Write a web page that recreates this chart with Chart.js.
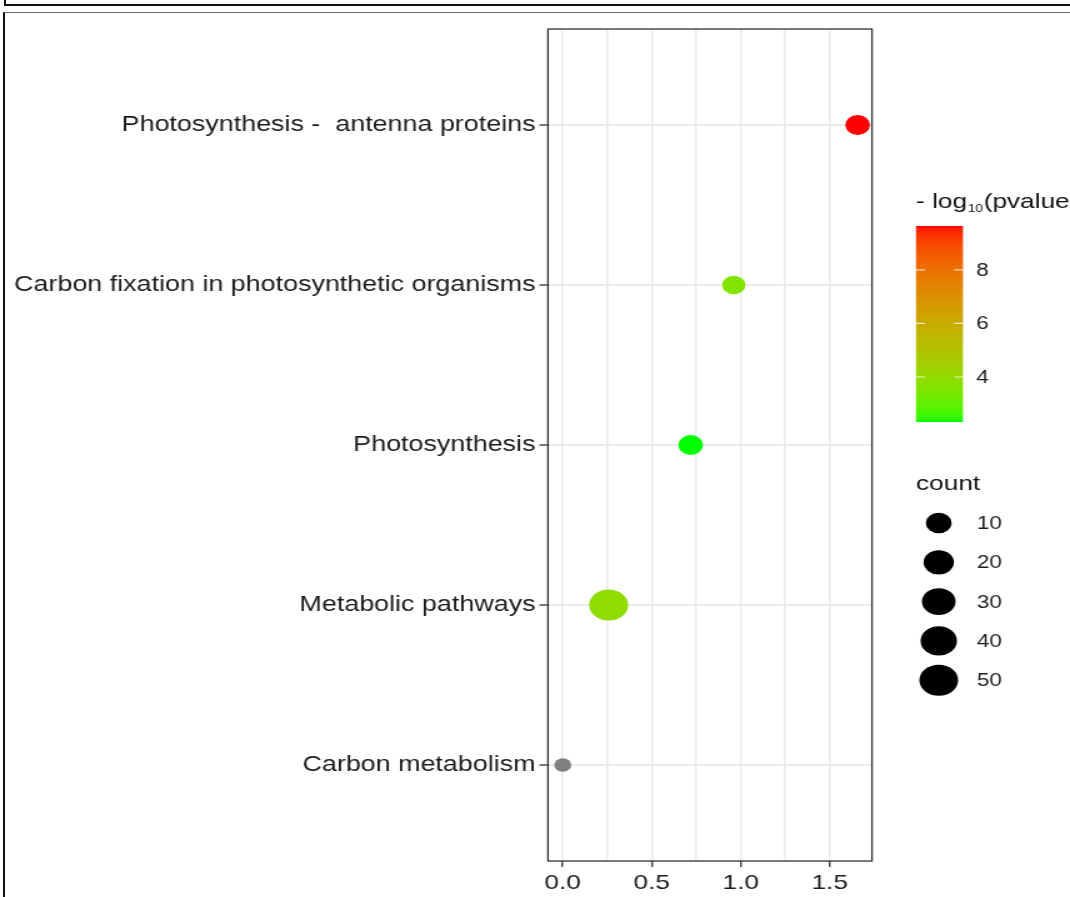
<!DOCTYPE html>
<html>
<head>
<meta charset="utf-8">
<title>KEGG enrichment</title>
<script src="https://cdn.jsdelivr.net/npm/chart.js@4.4.1/dist/chart.umd.min.js"></script>
<style>
  html, body { margin: 0; padding: 0; background: #fff; width: 1070px; height: 897px; overflow: hidden; }
  /* the figure is drawn on an 856px canvas and stretched horizontally to the page width */
  #wrap { position: absolute; left: 0; top: 0; width: 856px; height: 897px; transform: scaleX(1.25); transform-origin: 0 0; }
  .frame-top { position: absolute; left: 4px; top: -20px; width: 1200px; height: 22px; border: 2px solid #111; }
  .frame-main { position: absolute; left: 3px; top: 12px; width: 1200px; height: 1000px; border-top: 1px solid #666; border-left: 2px solid #111; }
</style>
</head>
<body>
<div class="frame-top"></div>
<div class="frame-main"></div>
<div id="wrap"><canvas id="c" width="856" height="897"></canvas></div>
<script>
// KEGG pathways, bottom to top
const pathways = [
  'Carbon metabolism',
  'Metabolic pathways',
  'Photosynthesis',
  'Carbon fixation in photosynthetic organisms',
  'Photosynthesis -  antenna proteins'
];
const richFactor = [0.0, 0.258, 0.719, 0.961, 1.657];
const geneCount  = [2, 51, 8, 6, 8];
const negLog10P  = [null, 3.9, 2.32, 3.6, 9.64];

const xTickValues = [0, 0.25, 0.5, 0.75, 1.0, 1.25, 1.5];
const xTickLabels = ['0.0', '', '0.5', '', '1.0', '', '1.5'];
const colourbarTicks = [4, 6, 8];
const countBreaks = [10, 20, 30, 40, 50];

const FONT = '"Liberation Sans", Arial, Helvetica, sans-serif';
const TEXT = '#1c1c1c';

// ---- colour scale: green -> red interpolated in CIELAB ----
const LOW = [0, 255, 0], HIGH = [255, 0, 0], NA_COLOUR = '#808080';
function toLab(rgb) {
  const lin = rgb.map(c => { c /= 255; return c <= 0.04045 ? c / 12.92 : Math.pow((c + 0.055) / 1.055, 2.4); });
  const X = (0.4124 * lin[0] + 0.3576 * lin[1] + 0.1805 * lin[2]) / 0.95047;
  const Y = (0.2126 * lin[0] + 0.7152 * lin[1] + 0.0722 * lin[2]);
  const Z = (0.0193 * lin[0] + 0.1192 * lin[1] + 0.9505 * lin[2]) / 1.08883;
  const f = t => t > 0.008856 ? Math.cbrt(t) : 7.787 * t + 16 / 116;
  const fx = f(X), fy = f(Y), fz = f(Z);
  return [116 * fy - 16, 500 * (fx - fy), 200 * (fy - fz)];
}
function fromLab(L, a, b) {
  const fy = (L + 16) / 116, fx = fy + a / 500, fz = fy - b / 200;
  const inv = t => t * t * t > 0.008856 ? t * t * t : (t - 16 / 116) / 7.787;
  const X = inv(fx) * 0.95047, Y = inv(fy), Z = inv(fz) * 1.08883;
  const r = 3.2406 * X - 1.5372 * Y - 0.4986 * Z;
  const g = -0.9689 * X + 1.8758 * Y + 0.0415 * Z;
  const bl = 0.0557 * X - 0.2040 * Y + 1.0570 * Z;
  const gam = c => { c = c <= 0.0031308 ? 12.92 * c : 1.055 * Math.pow(c, 1 / 2.4) - 0.055; return Math.round(Math.max(0, Math.min(1, c)) * 255); };
  return 'rgb(' + gam(r) + ',' + gam(g) + ',' + gam(bl) + ')';
}
const labLow = toLab(LOW), labHigh = toLab(HIGH);
const pVals = negLog10P.filter(v => v !== null);
const pMin = Math.min(...pVals), pMax = Math.max(...pVals);
function colourFor(v) {
  if (v === null || v === undefined) return NA_COLOUR;
  const t = Math.max(0, Math.min(1, (v - pMin) / (pMax - pMin)));
  return fromLab(
    labLow[0] + (labHigh[0] - labLow[0]) * t,
    labLow[1] + (labHigh[1] - labLow[1]) * t,
    labLow[2] + (labHigh[2] - labLow[2]) * t);
}

// ---- size scale: area-proportional between two diameters ----
const cMin = Math.min(...geneCount), cMax = Math.max(...geneCount);
const DIA_MIN = 13.6, DIA_MAX = 31.2;
function diameterFor(n) {
  const t = Math.max(0, (n - cMin) / (cMax - cMin));
  return DIA_MIN + (DIA_MAX - DIA_MIN) * Math.sqrt(t);
}

const points = pathways.map((p, i) => ({ x: richFactor[i], y: i + 1 }));

// panel frame and the two legends
const extras = {
  id: 'extras',
  afterDatasetsDraw(chart) {
    const { ctx, chartArea: a } = chart;
    ctx.save();
    ctx.strokeStyle = '#333';
    ctx.lineWidth = 1.3;
    ctx.strokeRect(a.left, a.top, a.right - a.left, a.bottom - a.top);
    ctx.restore();
  },
  afterDraw(chart) {
    const ctx = chart.ctx;
    const x0 = 732.8;
    ctx.save();
    ctx.textAlign = 'left';

    // colour legend title
    ctx.fillStyle = '#111';
    ctx.textBaseline = 'alphabetic';
    ctx.font = '21px ' + FONT;
    let tx = x0;
    ctx.fillText('- log', tx, 208);
    tx += ctx.measureText('- log').width + 0.5;
    ctx.font = '11px ' + FONT;
    ctx.fillText('10', tx, 212);
    tx += ctx.measureText('10').width + 0.5;
    ctx.font = '21px ' + FONT;
    ctx.fillText('(pvalue)', tx, 208);

    // colour bar
    const barTop = 226, barBottom = 422, barW = 37.6;
    for (let y = barTop; y < barBottom; y++) {
      const v = pMax - ((y + 0.5 - barTop) / (barBottom - barTop)) * (pMax - pMin);
      ctx.fillStyle = colourFor(v);
      ctx.fillRect(x0, y, barW, 1);
    }
    ctx.strokeStyle = 'rgba(255,255,255,0.75)';
    ctx.lineWidth = 1.2;
    ctx.font = '18px ' + FONT;
    ctx.fillStyle = TEXT;
    ctx.textBaseline = 'middle';
    colourbarTicks.forEach(v => {
      const y = barBottom - (v - pMin) / (pMax - pMin) * (barBottom - barTop);
      ctx.beginPath();
      ctx.moveTo(x0, y); ctx.lineTo(x0 + barW * 0.19, y);
      ctx.moveTo(x0 + barW * 0.81, y); ctx.lineTo(x0 + barW, y);
      ctx.stroke();
      ctx.fillText(String(v), 781, y + 1);
    });

    // size legend
    ctx.fillStyle = '#111';
    ctx.textBaseline = 'alphabetic';
    ctx.font = '21px ' + FONT;
    ctx.fillText('count', x0, 490);
    ctx.font = '18px ' + FONT;
    ctx.textBaseline = 'middle';
    countBreaks.forEach((n, i) => {
      const y = 523 + i * 39.3;
      ctx.fillStyle = '#000';
      ctx.beginPath();
      ctx.arc(751, y, diameterFor(n) / 2, 0, Math.PI * 2);
      ctx.fill();
      ctx.fillStyle = TEXT;
      ctx.fillText(String(n), 781.6, y + 1);
    });
    ctx.restore();
  }
};

new Chart(document.getElementById('c'), {
  type: 'scatter',
  data: {
    datasets: [{
      data: points,
      pointRadius: c => diameterFor(geneCount[c.dataIndex]) / 2,
      pointHoverRadius: c => diameterFor(geneCount[c.dataIndex]) / 2,
      pointBackgroundColor: c => colourFor(negLog10P[c.dataIndex]),
      pointBorderWidth: 0,
      pointBorderColor: 'rgba(0,0,0,0)'
    }]
  },
  options: {
    responsive: false,
    animation: false,
    devicePixelRatio: 1,
    events: [],
    layout: { padding: { left: 0, top: 29, right: 158.4, bottom: 0 } },
    plugins: { legend: { display: false }, tooltip: { enabled: false } },
    scales: {
      x: {
        type: 'linear',
        min: -0.0828,
        max: 1.7378,
        afterBuildTicks: s => { s.ticks = xTickValues.map(v => ({ value: v })); },
        afterFit: s => { s.height = 36; },
        ticks: {
          autoSkip: false,
          maxRotation: 0,
          padding: 4,
          color: TEXT,
          font: { family: FONT, size: 21 },
          callback: (v, i) => xTickLabels[i]
        },
        grid: {
          color: '#ebebeb',
          lineWidth: 1.5,
          drawTicks: true,
          tickLength: 6,
          tickWidth: 1.3,
          tickColor: c => (c.tick && xTickLabels[xTickValues.indexOf(c.tick.value)] !== '') ? '#333' : 'rgba(0,0,0,0)'
        },
        border: { display: false }
      },
      y: {
        type: 'linear',
        min: 0.4,
        max: 5.6,
        afterBuildTicks: s => { s.ticks = pathways.map((p, i) => ({ value: i + 1 })); },
        afterFit: s => { s.width = 438.4; },
        ticks: {
          autoSkip: false,
          padding: 3,
          color: TEXT,
          font: { family: FONT, size: 21.5 },
          callback: (v, i) => pathways[i]
        },
        grid: {
          color: '#ebebeb',
          lineWidth: 2,
          drawTicks: true,
          tickLength: 7,
          tickWidth: 1.3,
          tickColor: '#333'
        },
        border: { display: false }
      }
    }
  },
  plugins: [extras]
});
</script>
</body>
</html>
